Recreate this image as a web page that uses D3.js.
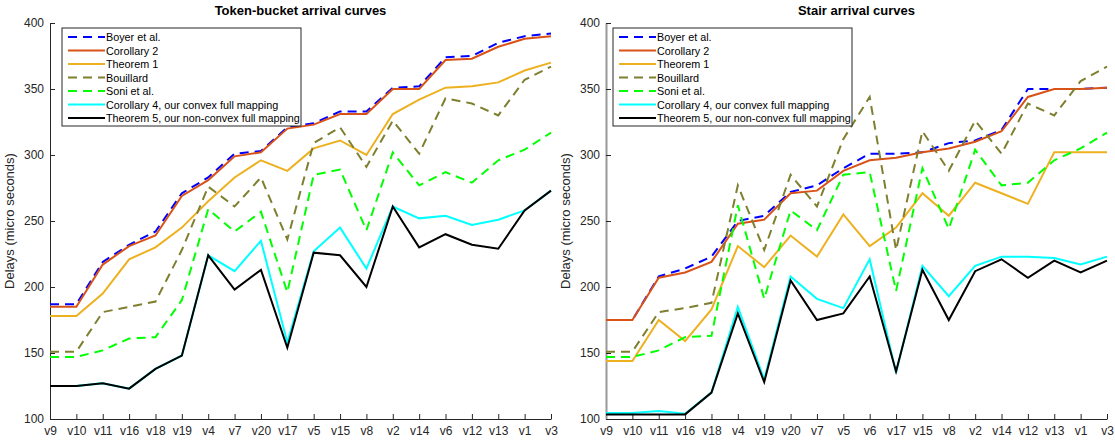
<!DOCTYPE html>
<html>
<head>
<meta charset="UTF-8">
<title>Arrival curves</title>
<script src="https://d3js.org/d3.v7.min.js"></script>
<style>
  body { margin: 0; background: #fff; }
  text { font-family: "Liberation Sans", Arial, Helvetica, sans-serif; }
</style>
</head>
<body>
<svg id="chart" width="1115" height="441"></svg>
<script>
// ---- data ----
const tokenLabels = ["v9","v10","v11","v16","v18","v19","v4","v7","v20","v17","v5","v15","v8","v2","v14","v6","v12","v13","v1","v3"];
const stairLabels = ["v9","v10","v11","v16","v18","v4","v19","v20","v7","v5","v6","v17","v15","v8","v2","v14","v12","v13","v1","v3"];
const yTicks = [100, 150, 200, 250, 300, 350, 400];

const seriesNames = ["Boyer et al.", "Corollary 2", "Theorem 1", "Bouillard", "Soni et al.",
  "Corollary 4, our convex full mapping", "Theorem 5, our non-convex full mapping"];

// token-bucket
const tbBoyer     = [187,187,219,232,242,271,283,301,303,321,324,333,333,351,352,374,375,385,390,392];
const tbCor2      = [185,185,217,231,239,269,281,299,302,320,323,331,331,350,350,372,373,382,388,390];
const tbThm1      = [178,178,195,221,230,245,265,283,296,288,305,311,300,331,342,351,352,355,364,370];
const tbBouillard = [151,151,181,185,189,228,276,261,283,236,309,321,291,326,301,343,339,330,357,367];
const tbSoni      = [147,147,152,161,162,190,259,242,257,196,285,289,243,302,277,287,279,296,304,317];
const tbCor4      = [125,125,127,123,138,148,224,212,235,158,227,245,214,261,252,254,247,251,258,273];
const tbThm5      = [125,125,127,123,138,148,224,198,213,154,226,224,200,261,230,240,232,229,258,273];

// stair
const stBoyer     = [175,175,208,214,223,250,254,272,277,290,301,301,302,309,311,319,350,350,350,351];
const stCor2      = [175,175,207,211,219,248,251,271,273,288,296,298,302,305,310,318,344,350,350,351];
const stThm1      = [144,144,175,159,183,231,215,239,223,255,231,245,271,254,279,271,263,302,302,302];
const stBouillard = [151,151,181,184,188,277,228,285,261,312,344,228,318,288,326,301,339,330,356,367];
const stSoni      = [147,147,152,162,163,262,191,258,243,285,287,197,290,244,304,277,279,296,305,317];
const stCor4      = [104.5,104.5,106,104,120,185,130,208,191,184,221,135,216,193,216,223,223,222,217,223];
const stThm5      = [103.5,103.5,103.5,103.5,120,180,128,205,175,180,208,136,213,175,212,221,207,220,211,220];

const styles = [
  {color: "#0000ff", dash: "9,6"},
  {color: "#d95319", dash: null},
  {color: "#edb120", dash: null},
  {color: "#7e7f2f", dash: "9,6"},
  {color: "#00ff00", dash: "9,6"},
  {color: "#00ffff", dash: null},
  {color: "#000000", dash: null}
];

const svg = d3.select("#chart");
const plotTop = 23, plotBottom = 419;

function drawPanel(opts) {
  const g = svg.append("g");
  const x = d3.scalePoint().domain(opts.labels).range([opts.left, opts.right]).padding(0);
  const y = d3.scaleLinear().domain([100, 400]).range([plotBottom, plotTop]);

  // title
  g.append("text")
    .attr("x", (opts.left + opts.right) / 2)
    .attr("y", 15)
    .attr("text-anchor", "middle")
    .style("font-size", "13px")
    .style("font-weight", "bold")
    .attr("fill", "#000")
    .text(opts.title);

  // axes (ticks point inwards)
  const xAxis = g.append("g")
    .attr("transform", `translate(0,${plotBottom})`)
    .call(d3.axisBottom(x).tickSizeInner(-5).tickSizeOuter(0).tickPadding(7));
  const yAxis = g.append("g")
    .attr("transform", `translate(${opts.left},0)`)
    .call(d3.axisLeft(y).tickValues(yTicks).tickSizeInner(-5).tickSizeOuter(0).tickPadding(6));

  [xAxis, yAxis].forEach(a => {
    a.selectAll("text").style("font-size", "12px").attr("fill", "#262626");
    a.selectAll("line").attr("stroke", "#262626");
    a.select(".domain").attr("stroke", "#262626");
  });
  if (opts.grayY) yAxis.select(".domain").attr("stroke", "#999").attr("stroke-width", 2);

  // y label
  g.append("text")
    .attr("transform", `translate(${opts.left - 36},${(plotTop + plotBottom) / 2}) rotate(-90)`)
    .attr("text-anchor", "middle")
    .style("font-size", "13px")
    .attr("fill", "#262626")
    .text("Delays (micro seconds)");

  const line = d3.line()
    .x((d, i) => x(opts.labels[i]))
    .y(d => y(d));

  opts.series.forEach((s, k) => {
    g.append("path")
      .datum(s)
      .attr("d", line)
      .attr("fill", "none")
      .attr("stroke", styles[k].color)
      .attr("stroke-width", 2)
      .attr("stroke-dasharray", styles[k].dash);
  });

  // legend
  const lx = opts.left + opts.legendDx, ly = 28;
  const leg = g.append("g").attr("transform", `translate(${lx},${ly})`);
  leg.append("rect")
    .attr("width", 239).attr("height", 98)
    .attr("fill", "#fff").attr("stroke", "#262626").attr("stroke-width", 1);
  seriesNames.forEach((name, k) => {
    const yy = 9 + k * 13.5;
    leg.append("line")
      .attr("x1", 6).attr("x2", 43).attr("y1", yy).attr("y2", yy)
      .attr("stroke", styles[k].color).attr("stroke-width", 2)
      .attr("stroke-dasharray", styles[k].dash);
    leg.append("text")
      .attr("x", 44).attr("y", yy + 4)
      .style("font-size", "10.8px")
      .attr("fill", "#000")
      .text(name);
  });
}

drawPanel({
  title: "Token-bucket arrival curves",
  labels: tokenLabels, left: 50, right: 551, legendDx: 12, grayY: false,
  series: [tbBoyer, tbCor2, tbThm1, tbBouillard, tbSoni, tbCor4, tbThm5]
});
drawPanel({
  title: "Stair arrival curves",
  labels: stairLabels, left: 606, right: 1107, legendDx: 7, grayY: true,
  series: [stBoyer, stCor2, stThm1, stBouillard, stSoni, stCor4, stThm5]
});
</script>
</body>
</html>
